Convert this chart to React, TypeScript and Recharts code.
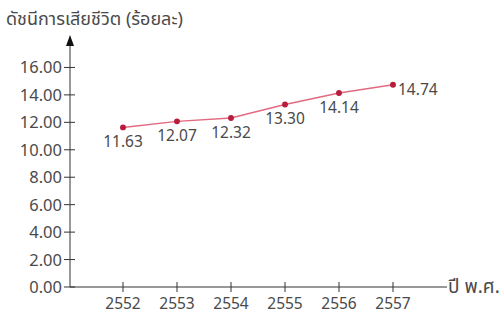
import { LabelList, Line, LineChart, XAxis, YAxis } from "recharts";

const years = ["2552", "2553", "2554", "2555", "2556", "2557"];
const deathIndex = [11.63, 12.07, 12.32, 13.3, 14.14, 14.74];
const yTicks = [0, 2, 4, 6, 8, 10, 12, 14, 16];

const data = years.map((year, i) => ({ year, value: deathIndex[i] }));

const AXIS_X = 70;
const AXIS_Y = 287;
const FONT = "'Noto Sans', 'Noto Sans Thai', Loma, sans-serif";
const TEXT = "#4a4a4a";
const AXIS = "#333";

function YTick(props: any) {
  const { y, payload } = props;
  return (
    <g>
      <line x1={AXIS_X - 6} x2={AXIS_X + 5} y1={y} y2={y} stroke={AXIS} />
      <text
        x={AXIS_X - 8}
        y={y}
        dy={6}
        textAnchor="end"
        fill={TEXT}
        fontSize={16.5}
        fontFamily={FONT}
      >
        {Number(payload.value).toFixed(2)}
      </text>
    </g>
  );
}

function XTick(props: any) {
  const { x, payload } = props;
  return (
    <g>
      <line x1={x} x2={x} y1={AXIS_Y - 5} y2={AXIS_Y + 5} stroke={AXIS} />
      <text
        x={x}
        y={AXIS_Y + 22}
        textAnchor="middle"
        fill={TEXT}
        fontSize={15.5}
        fontFamily={FONT}
      >
        {payload.value}
      </text>
    </g>
  );
}

function ValueLabel(props: any) {
  const { x, y, value, index } = props;
  const last = index === deathIndex.length - 1;
  return (
    <text
      x={last ? x + 5 : x}
      y={last ? y + 10 : y + 20}
      textAnchor={last ? "start" : "middle"}
      fill={TEXT}
      fontSize={15.5}
      fontFamily={FONT}
    >
      {Number(value).toFixed(2)}
    </text>
  );
}

function YTitle() {
  return (
    <g>
      <text x={6} y={25} fill={TEXT} fontSize={18} fontFamily={FONT}>
        ดัชนีการเสียชีวิต (ร้อยละ)
      </text>
      <polygon
        points={`${AXIS_X},35 ${AXIS_X - 4},46 ${AXIS_X + 4},46`}
        fill="#111"
      />
    </g>
  );
}

function XTitle() {
  return (
    <text x={448} y={AXIS_Y + 6} fill={TEXT} fontSize={19} fontFamily={FONT}>
      ปี พ.ศ.
    </text>
  );
}

export default function App() {
  return (
    <div style={{ position: "absolute", left: 0, top: 0, background: "#fff" }}>
      <LineChart
        width={499}
        height={318}
        data={data}
        margin={{ top: 40, right: 52, bottom: 0, left: 0 }}
      >
        <XAxis
          dataKey="year"
          height={31}
          padding={{ left: 53, right: 54 }}
          axisLine={{ stroke: AXIS }}
          tickLine={false}
          tick={<XTick />}
          label={<XTitle />}
        />
        <YAxis
          width={70}
          domain={[0, 18]}
          ticks={yTicks}
          axisLine={{ stroke: AXIS }}
          tickLine={false}
          tick={<YTick />}
          label={<YTitle />}
        />
        <Line
          type="linear"
          dataKey="value"
          stroke="#e26a80"
          strokeWidth={1.5}
          dot={{ r: 2.2, fill: "#b81d3c", stroke: "#b81d3c" }}
          isAnimationActive={false}
        >
          <LabelList dataKey="value" content={<ValueLabel />} />
        </Line>
      </LineChart>
    </div>
  );
}
